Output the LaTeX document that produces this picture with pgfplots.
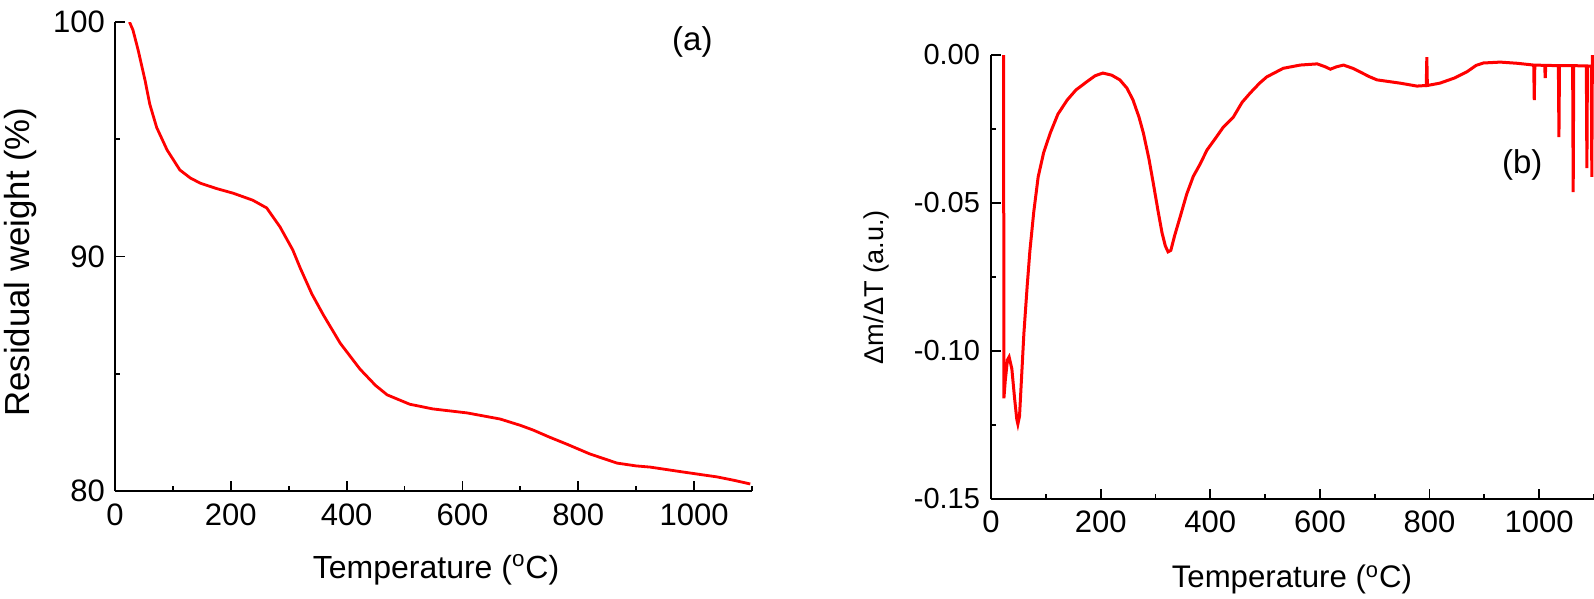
\documentclass[border=0pt]{standalone}
\usepackage{fontspec}
\setmainfont{Liberation Sans}
\usepackage{pgfplots}
\pgfplotsset{compat=1.18}
\begin{document}
\begin{tikzpicture}
\path[use as bounding box] (0,0) rectangle (797pt,-299.5pt);
\pgfplotsset{
  common/.style={
    scale only axis,
    axis x line*=bottom, axis y line*=left,
    axis line style={line width=1pt},
    tick align=inside,
    major tick length=5pt, minor tick length=2.5pt,
    every tick/.style={line width=0.9pt, black},
    /pgf/number format/assume math mode=true,
    /pgf/number format/1000 sep={},
    clip=true,
  }
}
% ---------- panel (a) ----------
\begin{axis}[common,
  at={(57.5pt,-245.5pt)}, anchor=south west,
  width=318.5pt, height=234.5pt,
  xmin=0, xmax=1100, ymin=80, ymax=100,
  xtick={0,200,...,1000}, minor xtick={100,300,...,1100},
  ytick={80,90,100}, minor ytick={85,95},
  tick label style={font=\fontsize{15.5}{17}\selectfont},
  xticklabel style={yshift=-3pt},
  yticklabel style={xshift=-1.5pt},
  xlabel={Temperature (\textsuperscript{o}C)},
  ylabel={Residual weight (\%)},
  xlabel style={font=\fontsize{16}{18}\selectfont, at={(axis description cs:0.504,-0.168)}, anchor=center},
  ylabel style={font=\fontsize{17.4}{19}\selectfont, at={(axis description cs:-0.149,0.488)}, anchor=center},
]
\addplot[red, line width=1.4pt] coordinates {
(25,100.0) (31,99.66) (40,98.8) (52,97.5) (60,96.5) (72,95.5) (90,94.54)
(112,93.69) (130,93.35) (147,93.13) (175,92.9) (204,92.7) (238,92.4)
(262,92.07) (285,91.26) (307,90.28) (320,89.5) (340,88.4) (360,87.5)
(389,86.3) (423,85.2) (450,84.5) (470,84.1) (509,83.7) (549,83.5)
(608,83.33) (665,83.07) (700,82.8) (722,82.6) (750,82.3) (780,82.0)
(820,81.58) (867,81.19) (900,81.07) (924,81.02) (981,80.81) (1040,80.6)
(1070,80.45) (1097,80.3)
};
\node[font=\fontsize{16.5}{18}\selectfont] at (axis cs:997,99.15) {(a)};
\end{axis}
% ---------- panel (b) ----------
\begin{axis}[common,
  at={(495.5pt,-249.5pt)}, anchor=south west,
  width=301.5pt, height=222pt,
  xmin=0, xmax=1100, ymin=-0.15, ymax=0,
  xtick={0,200,...,1000}, minor xtick={100,300,...,1100},
  ytick={-0.15,-0.10,-0.05,0}, minor ytick={-0.125,-0.075,-0.025},
  yticklabel style={font=\fontsize{14.5}{16}\selectfont, xshift=-2pt,
    /pgf/number format/.cd, fixed, fixed zerofill, precision=2},
  xticklabel style={font=\fontsize{15.5}{17}\selectfont, yshift=-2.5pt},
  scaled y ticks=false,
  xlabel={Temperature (\textsuperscript{o}C)},
  ylabel={Δm/ΔT (a.u.)},
  xlabel style={font=\fontsize{15.6}{18}\selectfont, at={(axis description cs:0.499,-0.182)}, anchor=center},
  ylabel style={font=\fontsize{13.6}{16}\selectfont, at={(axis description cs:-0.19,0.477)}, anchor=center},
]
\addplot[red, line width=1.5pt] coordinates {
(23,0.000) (23.5,-0.116) (26,-0.110) (30,-0.103) (33,-0.102) (38,-0.106)
(43,-0.116) (47,-0.123) (49,-0.1247) (52,-0.122) (56,-0.108) (60,-0.094)
(66,-0.078) (71,-0.066) (78,-0.053) (86,-0.0412) (96,-0.033) (108,-0.0264)
(122,-0.020) (139,-0.0152) (155,-0.0118) (175,-0.0090) (190,-0.0070)
(204,-0.0061) (220,-0.0068) (235,-0.0084) (248,-0.0112) (259,-0.0152)
(270,-0.0210) (278,-0.0264) (288,-0.0350) (296,-0.0433) (305,-0.0530)
(312,-0.0601) (318,-0.0645) (323,-0.0665) (328,-0.0660) (335,-0.0610)
(345,-0.0547) (357,-0.0470) (369,-0.0410) (381,-0.0370) (394,-0.0321)
(410,-0.0280) (424,-0.0243) (442,-0.0210) (458,-0.0160) (473,-0.0128)
(490,-0.0095) (503,-0.0074) (533,-0.0045) (564,-0.0034) (595,-0.0030)
(610,-0.0040) (619,-0.0048) (630,-0.0040) (643,-0.0034) (660,-0.0045)
(673,-0.0057) (690,-0.0073) (704,-0.0084) (746,-0.0095) (777,-0.0105)
(794,-0.0103) (795,-0.0007) (796,-0.0103) (819,-0.0095) (845,-0.0078)
(868,-0.0057) (885,-0.0035) (898,-0.0027) (929,-0.0024) (960,-0.0028)
(990,-0.0034) (991,-0.0152) (992,-0.0034) (1010,-0.0035) (1011,-0.0078)
(1012,-0.0035) (1035,-0.0036) (1036,-0.0277) (1037,-0.0036) (1061,-0.0036)
(1062,-0.0463) (1063,-0.0036) (1086,-0.0037) (1087,-0.0382) (1088,-0.0037)
(1095,-0.0038) (1096,-0.0412) (1097,0.000) (1098,-0.0040) (1100,-0.0040)
};
\node[font=\fontsize{16.5}{18}\selectfont] at (axis cs:969,-0.0372) {(b)};
\end{axis}
\end{tikzpicture}
\end{document}
